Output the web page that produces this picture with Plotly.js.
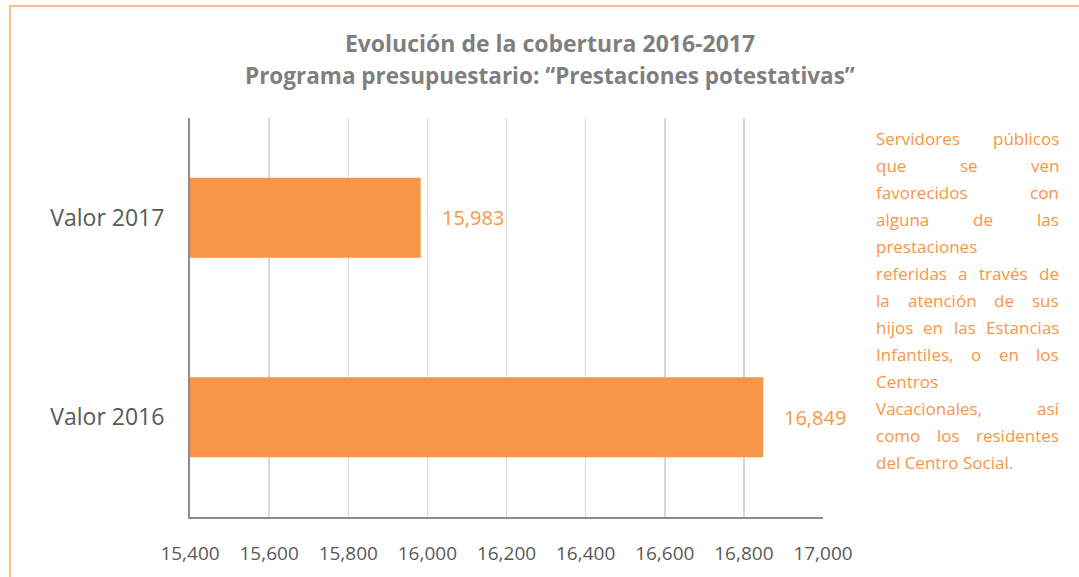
<!DOCTYPE html>
<html>
<head>
<meta charset="utf-8">
<script src="https://cdn.plot.ly/plotly-3.0.1.min.js"></script>
<style>
  html, body { margin: 0; padding: 0; background: #ffffff; overflow: hidden; }
  #wrap { position: relative; width: 1079px; height: 577px; overflow: hidden; }
  #frame { position: absolute; left: 9px; top: 5px; width: 1200px; height: 700px;
           border-left: 2px solid #FBBF8C; border-top: 2px solid #FBBF8C; z-index: 0; }
  #chart { position: absolute; left: 0; top: 0; width: 1079px; height: 577px; z-index: 1; }
</style>
</head>
<body>
<div id="wrap">
<div id="frame"></div>
<div id="chart"></div>
</div>
<script>
// ---- data ----
const categories = ['Valor 2016', 'Valor 2017'];
const values = [16849, 15983];
const xTickValues = [15400, 15600, 15800, 16000, 16200, 16400, 16600, 16800, 17000];
const titleLine1 = 'Evolución de la cobertura 2016-2017';
const titleLine2 = 'Programa presupuestario: “Prestaciones potestativas”';
const noteLines = [
  'Servidores públicos',
  'que se ven',
  'favorecidos con',
  'alguna de las',
  'prestaciones',
  'referidas a través de',
  'la atención de sus',
  'hijos en las Estancias',
  'Infantiles, o en los',
  'Centros',
  'Vacacionales, así',
  'como los residentes',
  'del Centro Social.'
];

// ---- layout geometry ----
const W = 1079, H = 577;
const M = { l: 190, r: 256, t: 118, b: 60 };
const PW = W - M.l - M.r, PH = H - M.t - M.b;
const px2x = px => (px - M.l) / PW;
const py2y = py => (H - M.b - py) / PH;

const ORANGE = '#F79646';
const FONT = '"Open Sans", "Noto Sans", sans-serif';

const fmt = v => v.toLocaleString('en-US');

const trace = {
  type: 'bar',
  orientation: 'h',
  y: categories,
  x: values,
  marker: { color: ORANGE },
  hoverinfo: 'skip',
  cliponaxis: true
};

const annotations = [];
// data labels
categories.forEach((c, i) => {
  annotations.push({
    x: values[i], y: c, xref: 'x', yref: 'y',
    text: fmt(values[i]), showarrow: false,
    xanchor: 'left', yanchor: 'middle', xshift: 19,
    font: { family: FONT, size: 20, color: ORANGE }
  });
});
// second title line
annotations.push({
  xref: 'paper', yref: 'paper', x: px2x(550), y: py2y(76),
  xanchor: 'center', yanchor: 'middle', showarrow: false,
  text: '<b>' + titleLine2 + '</b>',
  font: { family: FONT, size: 22.5, color: '#7F7F7F' }
});

// justified side note
const noteSize = 17;
const noteFontCss = noteSize + 'px "Open Sans"';
const cv = document.createElement('canvas').getContext('2d');
cv.font = noteFontCss;
const noteLeft = 874, noteRight = 1057, noteTop = 138, noteStep = 27;
noteLines.forEach((line, li) => {
  const py = noteTop + li * noteStep;
  const words = line.split(' ');
  const isLast = li === noteLines.length - 1;
  if (words.length === 1 || isLast) {
    annotations.push({
      xref: 'paper', yref: 'paper', x: px2x(noteLeft), y: py2y(py),
      xanchor: 'left', yanchor: 'middle', showarrow: false, text: line,
      font: { family: FONT, size: noteSize, color: ORANGE }
    });
    return;
  }
  const widths = words.map(w => cv.measureText(w).width);
  const total = widths.reduce((a, b) => a + b, 0);
  const gap = (noteRight - noteLeft - total) / (words.length - 1);
  let cx = noteLeft;
  words.forEach((w, wi) => {
    annotations.push({
      xref: 'paper', yref: 'paper', x: px2x(cx), y: py2y(py),
      xanchor: 'left', yanchor: 'middle', showarrow: false, text: w,
      font: { family: FONT, size: noteSize, color: ORANGE }
    });
    cx += widths[wi] + gap;
  });
});

const layout = {
  width: W, height: H,
  margin: M,
  paper_bgcolor: 'rgba(0,0,0,0)',
  plot_bgcolor: '#ffffff',
  showlegend: false,
  bargap: 0.6,
  title: {
    text: '<b>' + titleLine1 + '</b>',
    x: 550 / W, xanchor: 'center', xref: 'container',
    y: (H - 44) / H, yanchor: 'middle', yref: 'container',
    font: { family: FONT, size: 23, color: '#7F7F7F' }
  },
  xaxis: {
    range: [15400, 17000],
    tickvals: xTickValues,
    ticktext: xTickValues.map(fmt),
    showgrid: true, gridcolor: '#D9D9D9', gridwidth: 1.5,
    showline: true, linecolor: '#8C8C8C', linewidth: 2,
    zeroline: false,
    ticks: '', ticklabelstandoff: 18,
    tickfont: { family: FONT, size: 19, color: '#595959' },
    fixedrange: true
  },
  yaxis: {
    type: 'category',
    categoryorder: 'array', categoryarray: categories,
    showgrid: false, zeroline: false,
    showline: true, linecolor: '#8C8C8C', linewidth: 2,
    ticks: '', ticklabelstandoff: 19,
    tickfont: { family: FONT, size: 23, color: '#595959' },
    fixedrange: true
  },
  annotations: annotations
};

Plotly.newPlot('chart', [trace], layout, { displayModeBar: false, staticPlot: true });
</script>
</body>
</html>
